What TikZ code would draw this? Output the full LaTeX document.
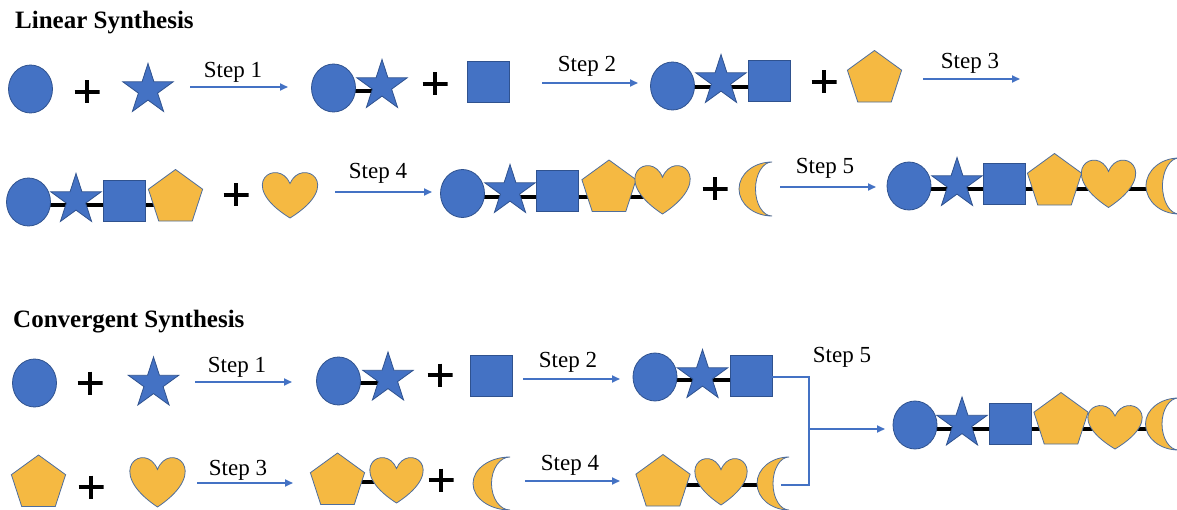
\documentclass[tikz,border=0pt]{standalone}
\usepackage{fontspec}
\setmainfont{Liberation Serif}
\usetikzlibrary{shapes.geometric,arrows.meta,backgrounds}
\definecolor{bfill}{HTML}{4472C4}
\definecolor{bline}{HTML}{2F528F}
\definecolor{yfill}{HTML}{F5B942}
\definecolor{yline}{HTML}{4F6E9C}
\definecolor{arrc}{HTML}{4472C4}
\tikzset{
  base/.style={inner sep=0pt, outer sep=0pt, line width=0.8pt},
  bcirc/.style={base, ellipse, fill=bfill, draw=bline, minimum width=44, minimum height=48},
  bstar/.style={base, star, star points=5, star point ratio=2.618, fill=bfill, draw=bline, minimum size=53},
  bsq/.style={base, rectangle, fill=bfill, draw=bline, minimum width=42, minimum height=41},
  ypent/.style={base, regular polygon, regular polygon sides=5, fill=yfill, draw=yline, minimum size=57},
  ghost/.style={inner sep=0pt, outer sep=0pt},
  plusmark/.style={inner sep=0pt, minimum width=25, minimum height=23,
    path picture={\draw[line width=4.5pt] (path picture bounding box.north) -- (path picture bounding box.south)
      (path picture bounding box.west) -- (path picture bounding box.east);}},
  arr/.style={draw=arrc, line width=1.8pt, -{Triangle[length=8pt,width=7pt]}},
  bond/.style={line width=3.5pt, black},
  steplbl/.style={anchor=base, inner sep=0pt, font=\fontsize{23}{23}\selectfont},
  titlelbl/.style={anchor=base west, inner sep=0pt, font=\fontsize{25}{25}\selectfont\bfseries},
  bracket/.style={draw=arrc, line width=1.3pt}
}
\newcommand{\hrt}[5]{%
  \filldraw[fill=yfill, draw=yline, line width=0.8pt] ({#2},{#3-(#5)/4}) .. controls ({#2+(#4)*10/48},{#3-(#5)*5/6}) and ({#2+(#4)*49/48},{#3-(#5)/4}) .. ({#2},{#3+(#5)/2}) .. controls ({#2-(#4)*49/48},{#3-(#5)/4}) and ({#2-(#4)*10/48},{#3-(#5)*5/6}) .. cycle;
  \node[ghost, minimum width=#4, minimum height=#5] (#1) at (#2,#3) {};}
\newcommand{\mn}[5]{%
  \filldraw[fill=yfill, draw=yline, line width=0.8pt] ({#2+(#4)/2},{#3-(#5)/2}) arc[start angle=270, end angle=90, x radius=#4, y radius={(#5)/2}] arc[start angle=90, end angle=270, x radius={(#4)/2}, y radius={(#5)/2}] -- cycle;
  \node[ghost, minimum width=#4, minimum height=#5] (#1) at (#2,#3) {};}
\begin{document}
\begin{tikzpicture}[x=1pt,y=-1pt]
\fill[white] (0,0) rectangle (1177,510);
\useasboundingbox (0,0) rectangle (1177,510);

% ---------------- Linear synthesis ----------------
\node[titlelbl] (t1) at (15,29) {Linear Synthesis};

% row 1
\node[bcirc] (c1) at (30.5,89) {};
\node[plusmark] (p1) at (87,92) {};
\node[bstar] (s1) at (148,90) {};
\coordinate (a1s) at (190,87); \coordinate (a1e) at (288,87);
\draw[arr] (a1s) -- (a1e);
\node[steplbl] (l1) at (233,78) {Step 1};

\draw[bond] (333.5,91) coordinate (b2s) -- (382,91) coordinate (b2e);
\node[bcirc] (c2) at (333.5,88) {};
\node[bstar] (s2) at (382,86) {};
\node[plusmark] (p2) at (435,84) {};
\node[bsq] (q1) at (488,82) {};
\coordinate (a2s) at (542,83); \coordinate (a2e) at (638,83);
\draw[arr] (a2s) -- (a2e);
\node[steplbl] (l2) at (587,72) {Step 2};

\draw[bond] (672.5,87) coordinate (b3s) -- (769,87) coordinate (b3e);
\node[bcirc] (c3) at (672.5,86) {};
\node[bstar] (s3) at (721,81) {};
\node[bsq] (q2) at (769,81) {};
\node[plusmark] (p3) at (824,82) {};
\node[ypent] (pn1) at (874.5,79) {};
\coordinate (a3s) at (923,79); \coordinate (a3e) at (1020,79);
\draw[arr] (a3s) -- (a3e);
\node[steplbl] (l3) at (970,69) {Step 3};

% row 2
\draw[bond] (28.5,205) coordinate (b4s) -- (175.5,205) coordinate (b4e);
\node[bcirc] (c4) at (28.5,202) {};
\node[bstar] (s4) at (76,200) {};
\node[bsq] (q3) at (124.5,200.5) {};
\node[ypent] (pn2) at (175.5,198) {};
\node[plusmark] (p4) at (236,195) {};
\hrt{h1}{290}{195}{55}{46}
\coordinate (a4s) at (335,192); \coordinate (a4e) at (432,192);
\draw[arr] (a4s) -- (a4e);
\node[steplbl] (l4) at (378,179) {Step 4};

\draw[bond] (462.5,197) coordinate (b5s) -- (662.5,197) coordinate (b5e);
\node[bcirc] (c5) at (462.5,193.5) {};
\node[bstar] (s5) at (510,191) {};
\node[bsq] (q4) at (557.5,191) {};
\node[ypent] (pn3) at (609,188.5) {};
\hrt{h2}{662.5}{189.5}{55}{49}
\node[plusmark] (p5) at (715,189) {};
\mn{m1}{755.5}{189}{33}{54}
\coordinate (a5s) at (780,187); \coordinate (a5e) at (876,187);
\draw[arr] (a5s) -- (a5e);
\node[steplbl] (l5) at (825,174) {Step 5};

\draw[bond] (909,189) coordinate (b6s) -- (1160,189) coordinate (b6e);
\node[bcirc] (c6) at (909,186) {};
\node[bstar] (s6) at (957,184) {};
\node[bsq] (q5) at (1004,184) {};
\node[ypent] (pn4) at (1054.5,182) {};
\hrt{h3}{1108.5}{183.5}{54}{48}
\mn{m2}{1162.5}{186}{33}{56}

% ---------------- Convergent synthesis ----------------
\node[titlelbl] (t2) at (13,327) {Convergent Synthesis};

% row A
\node[bcirc] (c7) at (34.5,383) {};
\node[plusmark] (p6) at (90,383) {};
\node[bstar] (s7) at (153.5,383.5) {};
\coordinate (a6s) at (195,382); \coordinate (a6e) at (292,382);
\draw[arr] (a6s) -- (a6e);
\node[steplbl] (l6) at (237,372) {Step 1};

\draw[bond] (338.5,383) coordinate (b8s) -- (388,383) coordinate (b8e);
\node[bcirc] (c8) at (338.5,381) {};
\node[bstar] (s8) at (388,378.5) {};
\node[plusmark] (p7) at (440,375) {};
\node[bsq] (q6) at (491.5,375.5) {};
\coordinate (a7s) at (523,379); \coordinate (a7e) at (620,379);
\draw[arr] (a7s) -- (a7e);
\node[steplbl] (l7) at (568,367) {Step 2};

\draw[bond] (655,380) coordinate (b9s) -- (751,380) coordinate (b9e);
\node[bcirc] (c9) at (655,377) {};
\node[bstar] (s9) at (702.5,376) {};
\node[bsq] (q7) at (751,376) {};

% row B
\node[ypent] (pn5) at (38.5,483.5) {};
\node[plusmark] (p8) at (91,487) {};
\hrt{h4}{157.5}{482}{55}{50}
\coordinate (a8s) at (197,483); \coordinate (a8e) at (293,483);
\draw[arr] (a8s) -- (a8e);
\node[steplbl] (l8) at (238,475) {Step 3};

\draw[bond] (337.5,482) coordinate (b10s) -- (396.5,482) coordinate (b10e);
\node[ypent] (pn6) at (337.5,481.5) {};
\hrt{h5}{396.5}{480}{53}{46}
\node[plusmark] (p9) at (441,480) {};
\mn{m3}{491.5}{483.5}{37}{53}
\coordinate (a9s) at (525,481); \coordinate (a9e) at (620,481);
\draw[arr] (a9s) -- (a9e);
\node[steplbl] (l9) at (570,470) {Step 4};

\draw[bond] (663,485) coordinate (b11s) -- (770,485) coordinate (b11e);
\node[ypent] (pn7) at (663,483) {};
\hrt{h6}{721}{481.5}{52}{47}
\mn{m4}{773}{483.5}{32}{53}

% bracket and step 5
\coordinate (k1) at (809,377);
\coordinate (k2) at (809,485);
\coordinate (k3) at (809,429);
\coordinate (k4) at (885,429);
\draw[bracket] (q7.east |- k1) -- (k1) -- (k2) -- (781,485) coordinate (k5);
\draw[arr] (k3) -- (k4);
\node[steplbl] (l10) at (842,362) {Step 5};

% final product
\draw[bond] (915,429) coordinate (b12s) -- (1160,429) coordinate (b12e);
\node[bcirc] (c10) at (915,425) {};
\node[bstar] (s10) at (962,423.5) {};
\node[bsq] (q8) at (1010,423.5) {};
\node[ypent] (pn8) at (1061,421) {};
\hrt{h7}{1115}{427}{54}{44}
\mn{m5}{1162}{424}{33}{52}
\end{tikzpicture}
\end{document}
